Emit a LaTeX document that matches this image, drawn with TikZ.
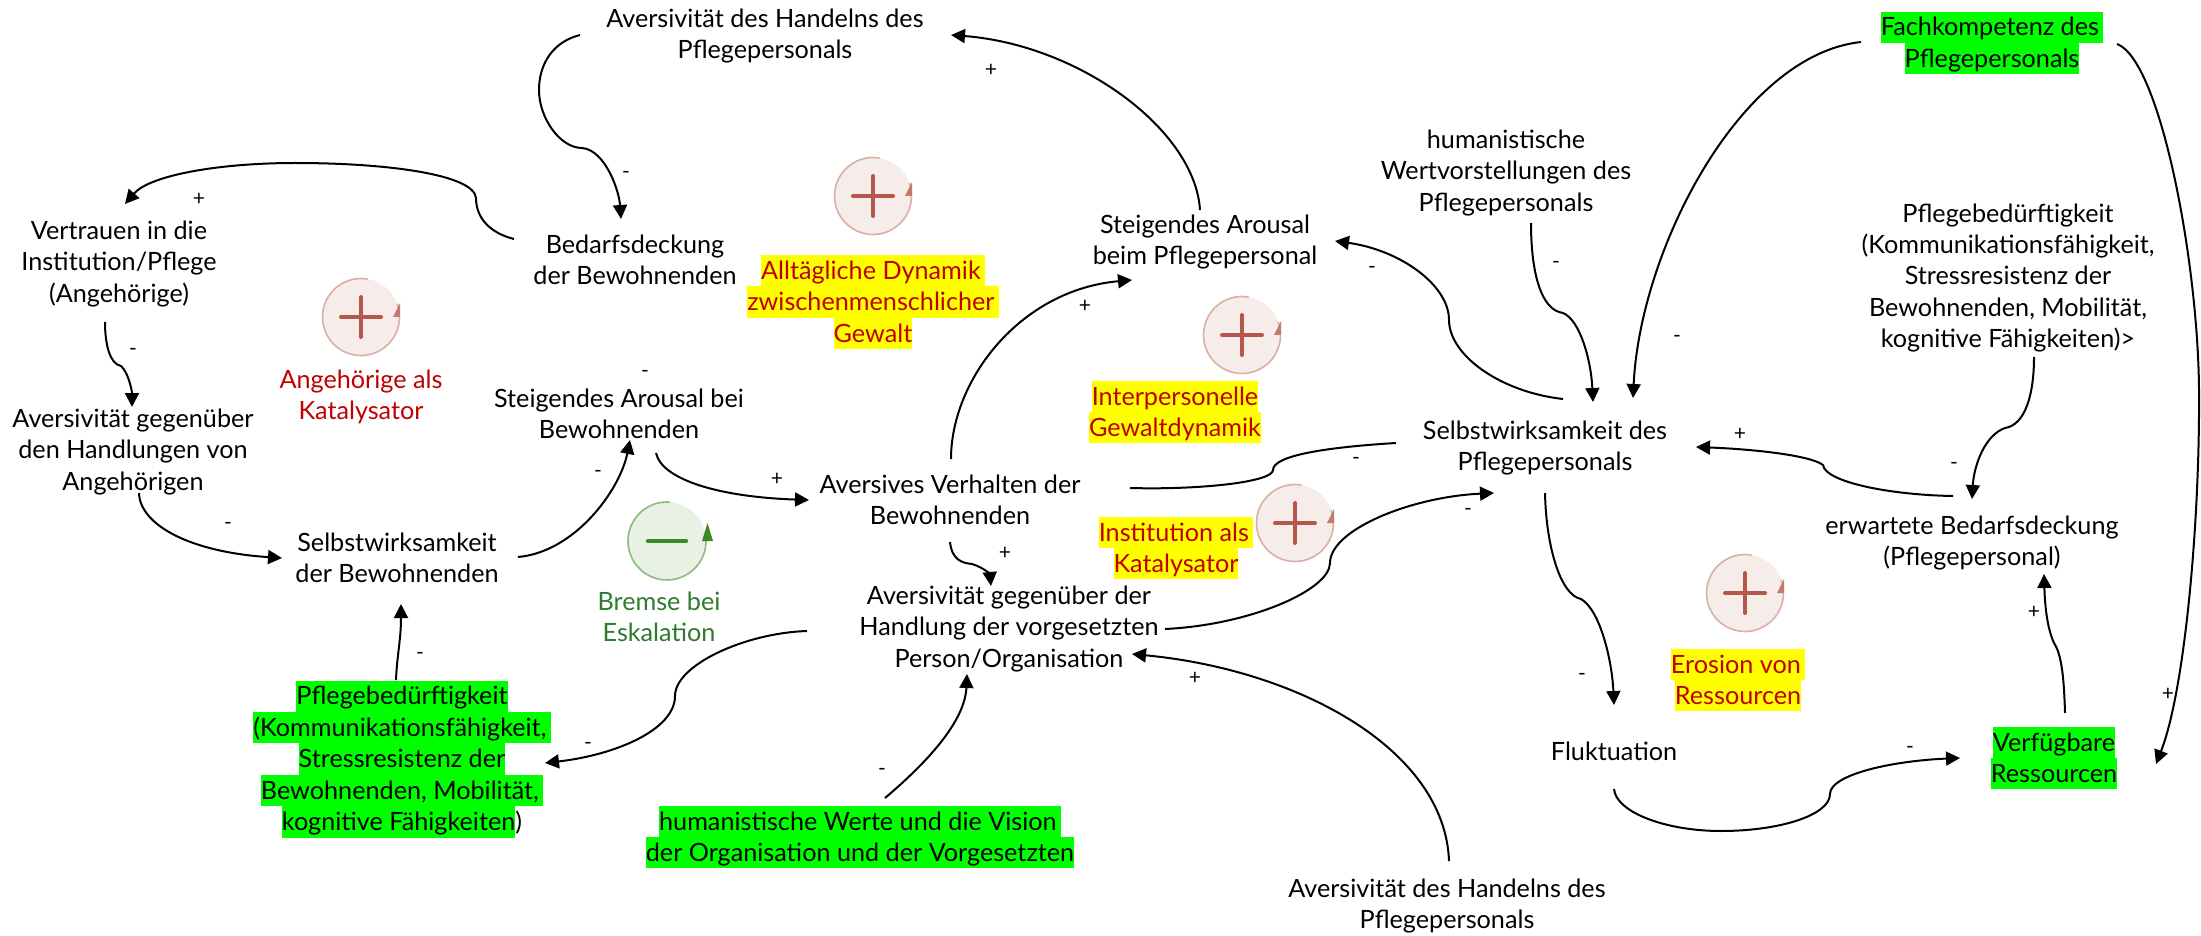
\documentclass[tikz,border=0pt]{standalone}
\usepackage{fontspec}
\setmainfont{Lato}
\usetikzlibrary{arrows.meta}
\definecolor{hly}{HTML}{FFFF00}
\definecolor{hlg}{HTML}{00FF00}
\definecolor{katred}{HTML}{C00000}
\definecolor{brgreen}{HTML}{2F7A2F}
\definecolor{pfill}{HTML}{F6ECEA}
\definecolor{pring}{HTML}{DDAEA5}
\definecolor{pmark}{HTML}{B5574A}
\definecolor{mfill}{HTML}{E8F1E3}
\definecolor{mring}{HTML}{8DBB80}
\definecolor{mmark}{HTML}{3C8A22}
\newcommand{\hlbox}[2]{{\setlength{\fboxsep}{0pt}\colorbox{#1}{\rule[-3.5pt]{0pt}{15.7pt}#2}}}
\newcommand{\plusicon}[2]{%
  \begin{scope}
    \clip (#1-40,#2-40) rectangle (#1+39,#2+40);
    \fill[pfill] (#1,#2) circle[radius=19.25pt];
    \draw[pring,line width=.8pt] (#1,#2) ++(80:19.25pt) arc[start angle=80,end angle=380,radius=19.25pt];
    \draw[pmark,line width=2pt,line cap=round] (#1-20,#2) -- (#1+20,#2);
    \draw[pmark,line width=2pt,line cap=round] (#1,#2-20) -- (#1,#2+20);
    \fill[pmark!80] (#1+32,#2) -- (#1+39,#2-14) -- (#1+39,#2) -- cycle;
  \end{scope}}
\tikzset{
  x=0.5pt,y=-0.5pt,
  txt/.style={align=center,inner sep=0pt,font=\fontsize{12.6}{15.7}\selectfont,execute at begin node={\rule{0pt}{13pt}}},
  sgn/.style={inner sep=0pt,text height=5.4pt,text depth=0pt,font=\fontsize{10.5}{11}\selectfont},
  conn/.style={line width=1pt,-{Triangle[length=7pt,width=7pt]}},
  plainconn/.style={line width=1pt},
}
\begin{document}
\begin{tikzpicture}
\useasboundingbox (0,0) rectangle (2201,936);
\fill[white] (0,0) rectangle (2201,936);
% icons
\plusicon{873}{196}
\plusicon{361}{317}
\plusicon{1242}{335}
\plusicon{1295}{523}
\plusicon{1745}{593}
\fill[mfill] (667,541) circle[radius=19.5pt];
\draw[mring,line width=.8pt] (667,541) ++(85:19.5pt) arc[start angle=85,end angle=360,radius=19.5pt];
\draw[mmark,line width=2.2pt,line cap=round] (648,541) -- (686,541);
\fill[mmark] (702,541) -- (713,541) -- (707.5,523) -- cycle;
% text nodes
\node[txt] (a1) at (765,36) {Aversivität des Handelns des\\Pflegepersonals};
\node[txt] (ver) at (119,264) {Vertrauen in die\\Institution/Pflege\\(Angehörige)};
\node[txt] (bed) at (635,260) {Bedarfsdeckung\\der Bewohnenden};
\node[txt,text=katred] (dyn) at (873,302) {\hlbox{hly}{Alltägliche Dynamik\,}\\\hlbox{hly}{zwischenmenschlicher\,}\\\hlbox{hly}{Gewalt}};
\node[txt,text=katred] (ang) at (361,397) {Angehörige als\\Katalysator};
\node[txt] (agang) at (133,452) {Aversivität gegenüber\\den Handlungen von\\Angehörigen};
\node[txt] (sab) at (619,414) {Steigendes Arousal bei\\Bewohnenden};
\node[txt] (swb) at (397,558) {Selbstwirksamkeit\\der Bewohnenden};
\node[txt] (avb) at (950,500) {Aversives Verhalten der\\Bewohnenden};
\node[txt,text=brgreen] (bre) at (659,617) {Bremse bei\\Eskalation};
\node[txt] (avvo) at (1009,629) {Aversivität gegenüber der\\Handlung der vorgesetzten\\Person/Organisation};
\node[txt] (pfl) at (402,759) {\hlbox{hlg}{Pflegebedürftigkeit}\\\hlbox{hlg}{(Kommunikationsfähigkeit,\,}\\\hlbox{hlg}{Stressresistenz der}\\\hlbox{hlg}{Bewohnenden, Mobilität,\,}\\\hlbox{hlg}{kognitive Fähigkeiten})};
\node[txt] (huw) at (860,837) {\hlbox{hlg}{humanistische Werte und die Vision\,}\\\hlbox{hlg}{der Organisation und der Vorgesetzten}};
\node[txt] (abot) at (1447,906) {Aversivität des Handelns des\\Pflegepersonals};
\node[txt] (flu) at (1614,748) {Fluktuation};
\node[txt] (res) at (2054,758) {\hlbox{hlg}{Verfügbare}\\\hlbox{hlg}{Ressourcen}};
\node[txt,text=katred] (ero) at (1738,680) {\hlbox{hly}{Erosion von\,}\\\hlbox{hly}{Ressourcen}};
\node[txt] (erw) at (1972,543) {erwartete Bedarfsdeckung\\(Pflegepersonal)};
\node[txt,text=katred] (ins) at (1176,548) {\hlbox{hly}{Institution als\,}\\\hlbox{hly}{Katalysator}};
\node[txt] (swp) at (1545,448) {Selbstwirksamkeit des\\Pflegepersonals};
\node[txt] (sap) at (1205,242) {Steigendes Arousal\\beim Pflegepersonal};
\node[txt,text=katred] (int) at (1175,412) {\hlbox{hly}{Interpersonelle}\\\hlbox{hly}{Gewaltdynamik}};
\node[txt] (hwv) at (1506,173) {humanistische\\Wertvorstellungen des\\Pflegepersonals};
\node[txt] (pfr) at (2008,278) {Pflegebedürftigkeit\\(Kommunikationsfähigkeit,\\Stressresistenz der\\Bewohnenden, Mobilität,\\kognitive Fähigkeiten)>};
\node[txt] (fak) at (1992,43) {\hlbox{hlg}{Fachkompetenz des\,}\\\hlbox{hlg}{Pflegepersonals}};
% connectors
\draw[conn] ([shift={(-185,-1)}]a1.center) .. controls (552,42) and (539,65) .. (539,90) .. controls (539,118) and (560,148) .. (582,148) .. controls (605,150) and (619,190) .. ([shift={(-14,-41)}]bed.center);
\draw[conn] ([shift={(-121,-21)}]bed.center) .. controls (490,233) and (476,218) .. (476,198) .. controls (474,175) and (390,163) .. (295,163) .. controls (220,163) and (150,175) .. ([shift={(6,-60)}]ver.center);
\draw[conn] ([shift={(-14,58)}]ver.center) .. controls (105,345) and (110,364) .. (121,366) .. controls (128,372) and (132,390) .. ([shift={(-1,-45)}]agang.center);
\draw[conn] ([shift={(6,41)}]agang.center) .. controls (140,525) and (190,552) .. ([shift={(-115,0)}]swb.center);
\draw[conn] ([shift={(121,-1)}]swb.center) .. controls (575,552) and (620,490) .. ([shift={(11,26)}]sab.center);
\draw[conn] ([shift={(37,39)}]sab.center) .. controls (662,480) and (720,497) .. ([shift={(-141,0)}]avb.center);
\draw[conn] ([shift={(1,-41)}]avb.center) .. controls (951,380) and (1020,290) .. ([shift={(-73,38)}]sap.center);
\draw[conn] ([shift={(-5,-32)}]sap.center) .. controls (1195,130) and (1080,45) .. ([shift={(186,-1)}]a1.center);
\draw[conn] ([shift={(18,-49)}]swp.center) .. controls (1500,392) and (1449,355) .. (1449,320) .. controls (1449,285) and (1400,250) .. ([shift={(130,-1)}]sap.center);
\draw[conn] ([shift={(25,50)}]hwv.center) .. controls (1531,270) and (1540,310) .. (1563,313) .. controls (1580,320) and (1591,360) .. ([shift={(48,-46)}]swp.center);
\draw[conn] ([shift={(-131,-1)}]fak.center) .. controls (1740,55) and (1640,250) .. ([shift={(88,-50)}]swp.center);
\draw[conn] ([shift={(125,1)}]fak.center) .. controls (2160,60) and (2198,260) .. (2199,390) .. controls (2200,520) and (2185,690) .. ([shift={(102,6)}]res.center);
\draw[plainconn] ([shift={(-149,-5)}]swp.center) .. controls (1330,447) and (1273,455) .. (1273,470) .. controls (1273,482) and (1200,490) .. ([shift={(180,-12)}]avb.center);
\draw[conn] ([shift={(0,42)}]avb.center) .. controls (952,560) and (962,563) .. (972,564) .. controls (985,568) and (990,575) .. ([shift={(-18,-43)}]avvo.center);
\draw[conn] ([shift={(156,0)}]avvo.center) .. controls (1250,625) and (1330,590) .. (1330,563) .. controls (1330,530) and (1410,497) .. ([shift={(-51,45)}]swp.center);
\draw[conn] ([shift={(-202,2)}]avvo.center) .. controls (745,633) and (675,665) .. (675,696) .. controls (675,730) and (615,755) .. ([shift={(143,4)}]pfl.center);
\draw[conn] ([shift={(-6,-79)}]pfl.center) .. controls (397,655) and (401,640) .. ([shift={(4,46)}]swb.center);
\draw[conn] ([shift={(25,-39)}]huw.center) .. controls (930,760) and (965,720) .. ([shift={(-42,45)}]avvo.center);
\draw[conn] ([shift={(2,-45)}]abot.center) .. controls (1445,750) and (1300,670) .. ([shift={(123,25)}]avvo.center);
\draw[conn] ([shift={(0,45)}]swp.center) .. controls (1546,545) and (1560,595) .. (1581,599) .. controls (1600,610) and (1612,660) .. ([shift={(0,-43)}]flu.center);
\draw[conn] ([shift={(0,41)}]flu.center) .. controls (1616,812) and (1665,831) .. (1721,831) .. controls (1780,831) and (1830,815) .. (1830,794) .. controls (1830,775) and (1890,761) .. ([shift={(-94,0)}]res.center);
\draw[conn] ([shift={(11,-45)}]res.center) .. controls (2064,680) and (2062,655) .. (2054,643) .. controls (2048,630) and (2045,610) .. ([shift={(72,31)}]erw.center);
\draw[conn] ([shift={(-19,-47)}]erw.center) .. controls (1890,495) and (1825,482) .. (1823,465) .. controls (1810,455) and (1750,449) .. ([shift={(151,-1)}]swp.center);
\draw[conn] ([shift={(26,79)}]pfr.center) .. controls (2034,395) and (2025,425) .. (2005,428) .. controls (1985,435) and (1974,465) .. ([shift={(0,-44)}]erw.center);
% signs
\node[sgn] (s1) at (199,200) {+};
\node[sgn] (s2) at (626,173) {-};
\node[sgn] (s3) at (991,71) {+};
\node[sgn] (s4) at (133,350) {-};
\node[sgn] (s5) at (645,372) {-};
\node[sgn] (s6) at (1085,307) {+};
\node[sgn] (s7) at (228,524) {-};
\node[sgn] (s8) at (598,472) {-};
\node[sgn] (s9) at (777,480) {+};
\node[sgn] (s10) at (1005,554) {+};
\node[sgn] (s11) at (420,654) {-};
\node[sgn] (s12) at (588,744) {-};
\node[sgn] (s13) at (882,770) {-};
\node[sgn] (s14) at (1372,268) {-};
\node[sgn] (s15) at (1556,263) {-};
\node[sgn] (s16) at (1677,337) {-};
\node[sgn] (s17) at (1740,435) {+};
\node[sgn] (s18) at (1356,459) {-};
\node[sgn] (s19) at (1954,464) {-};
\node[sgn] (s20) at (1468,510) {-};
\node[sgn] (s21) at (1195,679) {+};
\node[sgn] (s22) at (1582,675) {-};
\node[sgn] (s23) at (1910,748) {-};
\node[sgn] (s24) at (2034,613) {+};
\node[sgn] (s25) at (2168,695) {+};
\end{tikzpicture}
\end{document}
